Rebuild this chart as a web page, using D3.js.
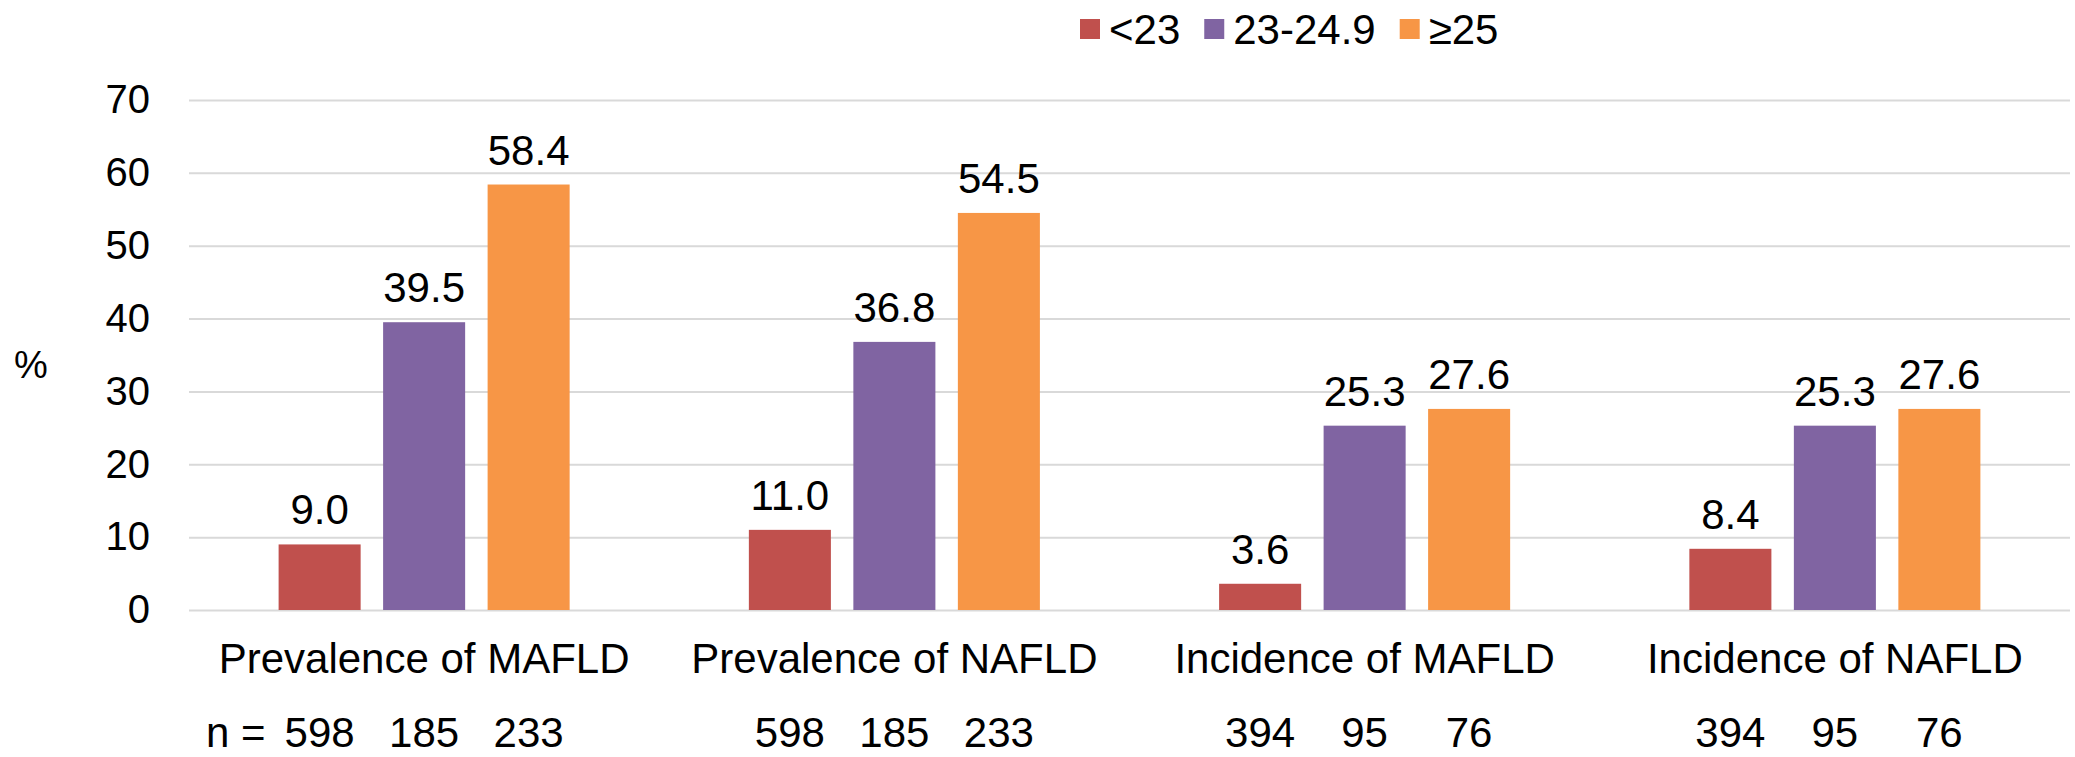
<!DOCTYPE html>
<html>
<head>
<meta charset="utf-8">
<script src="https://cdn.jsdelivr.net/npm/d3@7/dist/d3.min.js"></script>
<style>
  html, body { margin: 0; padding: 0; background: #fff; }
  svg text { font-family: "Liberation Sans", Arial, sans-serif; fill: #000; }
</style>
</head>
<body>
<svg id="chart" width="2075" height="757"></svg>
<script>
// Percentages by BMI group for each outcome
const categories = ["Prevalence of MAFLD", "Prevalence of NAFLD", "Incidence of MAFLD", "Incidence of NAFLD"];
const seriesNames = ["<23", "23-24.9", "≥25"];
const valuesLow = [9.0, 11.0, 3.6, 8.4];
const valuesMid = [39.5, 36.8, 25.3, 25.3];
const valuesHigh = [58.4, 54.5, 27.6, 27.6];
// Group sizes under each bar
const nLow = [598, 598, 394, 394];
const nMid = [185, 185, 95, 95];
const nHigh = [233, 233, 76, 76];
const yTicks = [0, 10, 20, 30, 40, 50, 60, 70];
const colors = ["#C0504D", "#8064A2", "#F79646"];

const seriesValues = [valuesLow, valuesMid, valuesHigh];
const seriesN = [nLow, nMid, nHigh];

const svg = d3.select("#chart");
const plot = { left: 189, right: 2070, top: 100, bottom: 610 };
const fontSize = 42;
const tickFontSize = 40;

const x0 = d3.scaleBand().domain(categories).range([plot.left, plot.right]);
const clusterWidth = 313.5;
const x1 = d3.scaleBand().domain(seriesNames).range([0, clusterWidth])
  .paddingInner(0.215).paddingOuter(0.1075);
const y = d3.scaleLinear().domain([0, 70]).range([plot.bottom, plot.top]);
const color = d3.scaleOrdinal().domain(seriesNames).range(colors);

const barX = (cat, s) => x0(cat) + x0.bandwidth() / 2 - clusterWidth / 2 + x1(s);

// Gridlines and y tick labels
const yAxis = d3.axisLeft(y).tickValues(yTicks).tickSize(-(plot.right - plot.left)).tickPadding(39);
const gy = svg.append("g").attr("transform", `translate(${plot.left},0)`).call(yAxis);
gy.select(".domain").remove();
gy.selectAll(".tick line").attr("stroke", "#D9D9D9").attr("stroke-width", 2);
gy.selectAll(".tick text")
  .attr("font-size", tickFontSize)
  .attr("fill", "#000")
  .style("font-family", '"Liberation Sans", Arial, sans-serif');

// Axis title
svg.append("text").attr("x", 31).attr("y", 365).attr("text-anchor", "middle")
  .attr("dominant-baseline", "central").attr("font-size", 38).text("%");

// Bars
const rows = [];
categories.forEach((cat, ci) => {
  seriesNames.forEach((s, si) => {
    rows.push({ cat, s, v: seriesValues[si][ci], n: seriesN[si][ci] });
  });
});

svg.append("g").selectAll("rect").data(rows).join("rect")
  .attr("x", d => barX(d.cat, d.s))
  .attr("y", d => y(d.v))
  .attr("width", x1.bandwidth())
  .attr("height", d => y(0) - y(d.v))
  .attr("fill", d => color(d.s));

// Value labels
svg.append("g").selectAll("text").data(rows).join("text")
  .attr("x", d => barX(d.cat, d.s) + x1.bandwidth() / 2)
  .attr("y", d => y(d.v) - 20)
  .attr("text-anchor", "middle")
  .attr("font-size", fontSize)
  .text(d => d3.format(".1f")(d.v));

// Category labels
const xAxis = d3.axisBottom(x0).tickSize(0).tickPadding(0);
const gx = svg.append("g").attr("transform", `translate(0,${plot.bottom})`).call(xAxis);
gx.select(".domain").remove();
gx.selectAll(".tick text")
  .attr("y", 63).attr("dy", 0)
  .attr("font-size", fontSize)
  .attr("fill", "#000")
  .style("font-family", '"Liberation Sans", Arial, sans-serif');

// Group sizes row
const nY = 747;
const nRow = svg.append("g");
nRow.selectAll("text").data(rows).join("text")
  .attr("x", d => barX(d.cat, d.s) + x1.bandwidth() / 2)
  .attr("y", nY)
  .attr("text-anchor", "middle")
  .attr("font-size", fontSize)
  .text(d => d.n);
const firstX = barX(categories[0], seriesNames[0]) + x1.bandwidth() / 2;
nRow.append("text")
  .attr("x", firstX - 54)
  .attr("y", nY)
  .attr("text-anchor", "end")
  .attr("font-size", fontSize)
  .text("n =");

// Legend
const legend = svg.append("g").attr("transform", "translate(1080,0)");
let lx = 0;
seriesNames.forEach((s) => {
  const item = legend.append("g").attr("transform", `translate(${lx},0)`);
  item.append("rect").attr("x", 0).attr("y", 19).attr("width", 20).attr("height", 20).attr("fill", color(s));
  const t = item.append("text").attr("x", 29).attr("y", 44).attr("font-size", fontSize).text(s);
  lx += 29 + t.node().getComputedTextLength() + 24;
});
</script>
</body>
</html>
